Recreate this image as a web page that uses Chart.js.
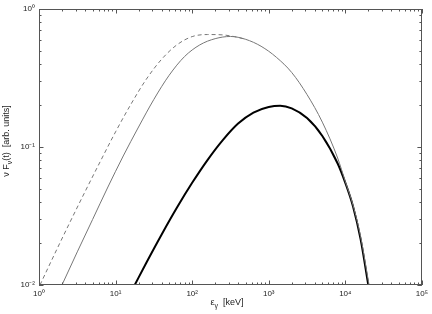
<!DOCTYPE html>
<html><head><meta charset="utf-8">
<script src="https://cdn.jsdelivr.net/npm/chart.js@4/dist/chart.umd.min.js"></script>
<style>html,body{margin:0;padding:0;background:#fff}canvas{display:block}</style>
</head><body>
<canvas id="c" width="432" height="314"></canvas>
<script>
// Data (x: keV, y: arb. units)
const dashedX = [1.03, 1.585, 2.512, 3.981, 6.31, 10, 15.85, 25.12, 39.81, 63.1, 100, 158.5, 251.2, 354.8, 501.2];
const dashedY = [0.01, 0.0166, 0.0282, 0.0473, 0.0785, 0.1288, 0.204, 0.309, 0.4315, 0.5495, 0.631, 0.653, 0.649, 0.631, 0.603];

const thinX = [1.995, 3.162, 5.012, 7.943, 12.59, 19.95, 31.62, 50.12, 79.43, 125.9, 199.5, 316.2, 501.2, 794.3, 1259, 1995, 3162, 5012, 7943, 10000, 12589, 15849, 20417];
const thinY = [0.01, 0.01738, 0.02985, 0.0513, 0.0861, 0.1396, 0.2213, 0.3311, 0.4519, 0.5495, 0.6095, 0.6324, 0.6026, 0.537, 0.4467, 0.3467, 0.2399, 0.1514, 0.0832, 0.0562, 0.038, 0.0224, 0.01];

const thickX = [17.78, 25.12, 39.81, 63.1, 100, 158.5, 251.2, 398.1, 631, 1000, 1413, 1995, 3162, 5012, 7943, 10000, 12589, 15849, 19953];
const thickY = [0.01, 0.01445, 0.02317, 0.0363, 0.055, 0.0804, 0.1122, 0.1479, 0.1778, 0.195, 0.1991, 0.1905, 0.1622, 0.1202, 0.0759, 0.055, 0.0372, 0.0214, 0.01];

const xTickValues = [1, 10, 100, 1000, 10000, 100000];
const xTickLabels = ['10\u2070', '10\u00B9', '10\u00B2', '10\u00B3', '10\u2074', '10\u2075'];
const yTickValues = [0.01, 0.1, 1];
const yTickLabels = ['10\u207B\u00B2', '10\u207B\u00B9', '10\u2070'];

const toPts = (xs, ys) => xs.map((x, i) => ({x: x, y: ys[i]}));
const FONT = '"Liberation Sans", Arial, Helvetica, sans-serif';

const framePlugin = {
  id: 'frame',
  afterDraw(chart) {
    const ctx = chart.ctx, a = chart.chartArea;
    const xs = chart.scales.x, ys = chart.scales.y;
    ctx.save();
    ctx.strokeStyle = '#555';
    ctx.lineWidth = 1;
    ctx.strokeRect(Math.round(a.left) + 0.5, Math.round(a.top) + 0.5,
                   Math.round(a.right - a.left) - 1, Math.round(a.bottom - a.top) - 1);
    ctx.beginPath();
    for (let d = 0; d <= 5; d++) {
      for (let k = 1; k <= 9; k++) {
        const v = k * Math.pow(10, d);
        if (v > 1e5) break;
        const px = Math.round(xs.getPixelForValue(v)) + 0.5;
        const len = k === 1 ? 4.5 : 2.5;
        ctx.moveTo(px, a.bottom); ctx.lineTo(px, a.bottom - len);
        ctx.moveTo(px, a.top); ctx.lineTo(px, a.top + len);
      }
    }
    for (let d = -2; d <= 0; d++) {
      for (let k = 1; k <= 9; k++) {
        const v = k * Math.pow(10, d);
        if (v > 1.0001) break;
        const py = Math.round(ys.getPixelForValue(v)) + 0.5;
        const len = k === 1 ? 4.5 : 2.5;
        ctx.moveTo(a.left, py); ctx.lineTo(a.left + len, py);
        ctx.moveTo(a.right, py); ctx.lineTo(a.right - len, py);
      }
    }
    ctx.stroke();

    function drawParts(parts, cx, cy) {
      let total = 0;
      parts.forEach(p => { ctx.font = p.s + 'px ' + FONT; p.w = ctx.measureText(p.t).width; total += p.w; });
      let x = cx - total / 2;
      parts.forEach(p => {
        ctx.font = p.s + 'px ' + FONT;
        ctx.fillText(p.t, x, cy + (p.dy || 0));
        x += p.w;
      });
    }
    ctx.fillStyle = '#222';
    ctx.textBaseline = 'middle';
    ctx.textAlign = 'left';
    drawParts([{t: '\u03B5', s: 9}, {t: '\u03B3', s: 7, dy: 3}, {t: '  [keV]', s: 9}], 227, 303);
    ctx.translate(7, 141);
    ctx.rotate(-Math.PI / 2);
    drawParts([{t: '\u03BD F', s: 9}, {t: '\u03BD', s: 7, dy: 3}, {t: '(t)  [arb. units]', s: 9}], 0, 0);
    ctx.restore();
  }
};

new Chart(document.getElementById('c'), {
  type: 'scatter',
  data: {
    datasets: [
      {data: toPts(dashedX, dashedY), showLine: true, borderColor: '#777', borderWidth: 1,
       borderDash: [4, 3], pointRadius: 0, cubicInterpolationMode: 'monotone'},
      {data: toPts(thinX, thinY), showLine: true, borderColor: '#777', borderWidth: 1,
       pointRadius: 0, cubicInterpolationMode: 'monotone'},
      {data: toPts(thickX, thickY), showLine: true, borderColor: '#000', borderWidth: 2,
       pointRadius: 0, cubicInterpolationMode: 'monotone'}
    ]
  },
  options: {
    responsive: false,
    animation: false,
    devicePixelRatio: 1,
    layout: {padding: {left: 0, right: 10, top: 9, bottom: 0}},
    plugins: {legend: {display: false}, tooltip: {enabled: false}},
    scales: {
      x: {
        type: 'logarithmic', min: 1, max: 1e5,
        grid: {display: false, drawTicks: false}, border: {display: false},
        afterBuildTicks: s => { s.ticks = xTickValues.map(v => ({value: v})); },
        afterFit: s => { s.height = 29; },
        ticks: {autoSkip: false, maxRotation: 0, padding: 4, color: '#222',
                font: {family: FONT, size: 8},
                callback: v => { const i = xTickValues.indexOf(v); return i >= 0 ? xTickLabels[i] : ''; }}
      },
      y: {
        type: 'logarithmic', min: 0.01, max: 1,
        grid: {display: false, drawTicks: false}, border: {display: false},
        afterBuildTicks: s => { s.ticks = yTickValues.map(v => ({value: v})); },
        afterFit: s => { s.width = 39; },
        ticks: {autoSkip: false, padding: 4, color: '#222',
                font: {family: FONT, size: 8},
                callback: v => { const i = yTickValues.findIndex(t => Math.abs(t - v) / t < 1e-6); return i >= 0 ? yTickLabels[i] : ''; }}
      }
    }
  },
  plugins: [framePlugin]
});
</script>
</body></html>
